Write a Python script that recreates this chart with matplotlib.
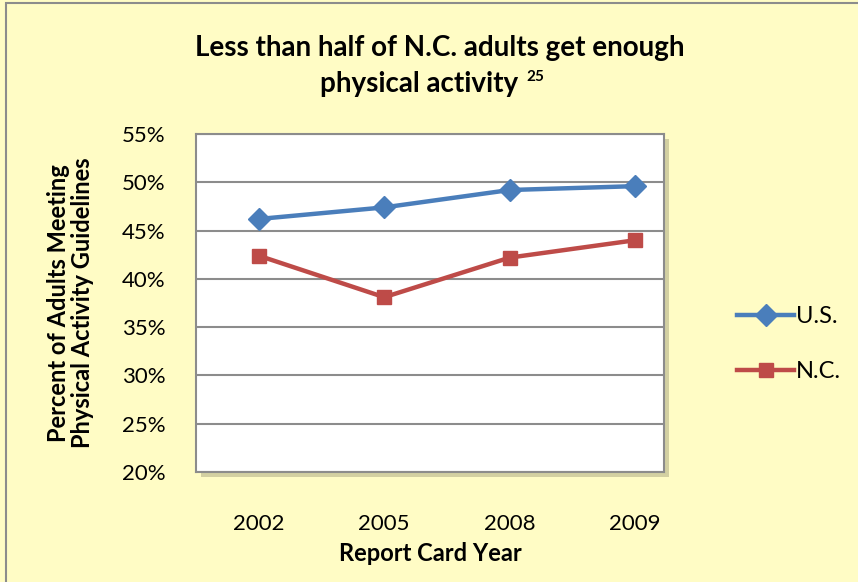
import matplotlib.pyplot as plt
from matplotlib.patches import Rectangle
from matplotlib.lines import Line2D
from matplotlib.ticker import FuncFormatter

years = ['2002', '2005', '2008', '2009']
us = [46.2, 47.4, 49.2, 49.6]
nc = [42.4, 38.1, 42.2, 44.0]

blue = '#4a7ebb'
red = '#be4b48'
bg = '#fffcc5'

plt.rcParams['font.family'] = ['Lato', 'DejaVu Sans']

fig = plt.figure(figsize=(8.58, 5.82), dpi=100, facecolor=bg)

# outer chart border (only left/top visible in the reference)
fig.add_artist(Rectangle((6/858, -0.1), 1.2, 1 - 3/582 + 0.1, transform=fig.transFigure,
                         fill=False, edgecolor='#8c8c8c', lw=1.5, zorder=-2))

L, B, W, H = 196/858, 110/582, 468/858, 338/582
# plot-area shadow
fig.add_artist(Rectangle((L + 5/858, B - 5/582), W, H, transform=fig.transFigure,
                         facecolor='#c9c69a', edgecolor='none', alpha=0.8, zorder=-1))

ax = fig.add_axes([L, B, W, H])
ax.set_facecolor('white')
x = range(len(years))
ax.plot(x, us, color=blue, lw=3.2, marker='D', ms=11, label='U.S.', zorder=3)
ax.plot(x, nc, color=red, lw=3.2, marker='s', ms=10, label='N.C.', zorder=3)

ax.set_xlim(-0.5, 3.23)
ax.set_ylim(20, 55)
ax.set_yticks(range(20, 56, 5))
ax.yaxis.set_major_formatter(FuncFormatter(lambda v, p: f'{int(v)}%'))
ax.set_xticks(list(x))
ax.set_xticklabels(years)
ax.tick_params(length=0, labelsize=16)
ax.tick_params(axis='y', pad=22)
ax.tick_params(axis='x', pad=30)
ax.grid(axis='y', color='#8c8c8c', lw=1.5)
ax.set_axisbelow(True)
for s in ax.spines.values():
    s.set_color('#8c8c8c')
    s.set_linewidth(1.5)

ax.set_xlabel('Report Card Year', fontsize=17, fontweight='bold', labelpad=6)
ax.set_ylabel('Percent of Adults Meeting\nPhysical Activity Guidelines', fontsize=17,
              fontweight='bold', labelpad=20, linespacing=1.05)

fig.text(0.512, 0.918, 'Less than half of N.C. adults get enough',
         ha='center', va='center', fontsize=20, fontweight='bold')
fig.text(0.604, 0.856, 'physical activity', ha='right', va='center',
         fontsize=20, fontweight='bold')
fig.text(0.614, 0.868, '25', ha='left', va='center', fontsize=11, fontweight='bold')

handles = [Line2D([], [], color=blue, lw=3.2, marker='D', ms=11),
           Line2D([], [], color=red, lw=3.2, marker='s', ms=10)]
fig.legend(handles, ['U.S.', 'N.C.'], loc='center left', bbox_to_anchor=(716/858, 1 - 344/582),
           frameon=False, fontsize=17, labelspacing=1.45, handlelength=2.4, handletextpad=0.1)

fig.savefig('out.png', dpi=100, facecolor=bg)
